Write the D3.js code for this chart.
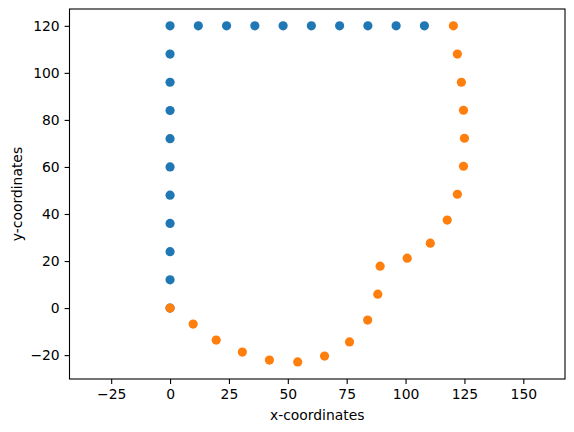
<!DOCTYPE html>
<html>
<head>
<meta charset="utf-8">
<script src="https://cdn.jsdelivr.net/npm/d3@7"></script>
<style>
  body { margin: 0; background: #fff; }
  svg { display: block; }
  text { font-family: "DejaVu Sans", sans-serif; fill: #000; }
</style>
</head>
<body>
<svg id="chart" width="574" height="432"></svg>
<script>
// blue points: along the left edge, then along the top
var blueX = [0, 0, 0, 0, 0, 0, 0, 0, 0, 0, 0, 12, 24, 36, 48, 60, 72, 84, 96, 108];
var blueY = [0, 12, 24, 36, 48, 60, 72, 84, 96, 108, 120, 120, 120, 120, 120, 120, 120, 120, 120, 120];

// orange points: curve from origin to top right
var orangeX = [0, 9.8, 19.6, 30.7, 42.2, 54.2, 65.6, 76.2, 83.9, 88.2, 89.2, 100.7, 110.5, 117.7, 122.0, 124.6, 125.0, 124.6, 123.7, 122.0, 120.3];
var orangeY = [0, -6.8, -13.6, -18.7, -22.1, -22.9, -20.4, -14.4, -5.1, 5.9, 17.8, 21.2, 27.6, 37.4, 48.4, 60.3, 72.2, 84.1, 96, 108, 120];

var xTicks = [-25, 0, 25, 50, 75, 100, 125, 150];
var yTicks = [-20, 0, 20, 40, 60, 80, 100, 120];

var xLabel = "x-coordinates";
var yLabel = "y-coordinates";

// plot area
var plotLeft = 69.5, plotRight = 565, plotTop = 9, plotBottom = 379;

var svg = d3.select("#chart");

var x = d3.scaleLinear().domain([-42.7, 167.7]).range([plotLeft, plotRight]);
var y = d3.scaleLinear().domain([-30.15, 127.15]).range([plotBottom, plotTop]);

function pts(xs, ys) {
    return xs.map(function(v, i) { return { x: v, y: ys[i] }; });
}

var g = svg.append("g");

g.selectAll("circle.blue")
    .data(pts(blueX, blueY))
    .enter().append("circle")
    .attr("class", "blue")
    .attr("cx", function(d) { return x(d.x); })
    .attr("cy", function(d) { return y(d.y); })
    .attr("r", 4.6)
    .attr("fill", "#1f77b4");

g.selectAll("circle.orange")
    .data(pts(orangeX, orangeY))
    .enter().append("circle")
    .attr("class", "orange")
    .attr("cx", function(d) { return x(d.x); })
    .attr("cy", function(d) { return y(d.y); })
    .attr("r", 4.6)
    .attr("fill", "#ff7f0e");

// axes
var xAxis = svg.append("g")
    .attr("transform", "translate(0," + plotBottom + ")")
    .call(d3.axisBottom(x).tickValues(xTicks).tickSize(4.9).tickPadding(4.9).tickFormat(d3.format("d")));
var yAxis = svg.append("g")
    .attr("transform", "translate(" + plotLeft + ",0)")
    .call(d3.axisLeft(y).tickValues(yTicks).tickSize(4.9).tickPadding(4.9).tickFormat(d3.format("d")));

[xAxis, yAxis].forEach(function(a) {
    a.select(".domain").remove();
    a.selectAll("line").attr("stroke", "#000").attr("stroke-width", 1.1);
    a.selectAll("text").style("font-size", "13.9px").style("font-family", "DejaVu Sans, sans-serif");
});

// frame
svg.append("rect")
    .attr("x", plotLeft).attr("y", plotTop)
    .attr("width", plotRight - plotLeft).attr("height", plotBottom - plotTop)
    .attr("fill", "none").attr("stroke", "#000").attr("stroke-width", 1.1);

svg.append("text")
    .attr("x", (plotLeft + plotRight) / 2).attr("y", 420)
    .attr("text-anchor", "middle")
    .style("font-size", "13.9px")
    .text(xLabel);

svg.append("text")
    .attr("transform", "translate(17," + (plotTop + plotBottom) / 2 + ") rotate(-90)")
    .attr("text-anchor", "middle")
    .attr("dy", "0.35em")
    .style("font-size", "13.9px")
    .text(yLabel);
</script>
</body>
</html>
